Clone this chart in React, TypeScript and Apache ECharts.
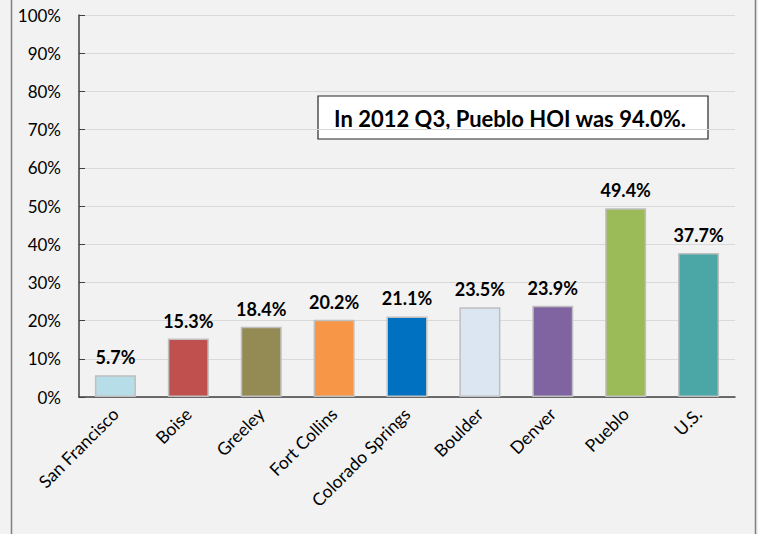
import React, { useEffect, useRef } from "react";
import * as echarts from "echarts";

const categories = ["San Francisco", "Boise", "Greeley", "Fort Collins", "Colorado Springs", "Boulder", "Denver", "Pueblo", "U.S."];
const values = [5.7, 15.3, 18.4, 20.2, 21.1, 23.5, 23.9, 49.4, 37.7];
const colors = ["#b7dee8", "#c0504d", "#948a54", "#f79646", "#0070c0", "#dce6f2", "#8064a2", "#9bbb59", "#4ba6a6"];
const annotation = "In 2012 Q3, Pueblo HOI was 94.0%.";

const FONT = "Lato, 'Open Sans', sans-serif";

export default function App() {
  const ref = useRef<HTMLDivElement>(null);
  useEffect(() => {
    const chart = echarts.init(ref.current!, null, { renderer: "svg" });
    chart.setOption({
      animation: false,
      backgroundColor: "#f2f2f2",
      grid: { left: 79, right: 23, top: 15, bottom: 137 },
      xAxis: {
        type: "category",
        data: categories,
        axisLine: { lineStyle: { color: "#404040", width: 1.5 } },
        axisTick: { inside: true, length: 6, lineStyle: { color: "#404040" } },
        axisLabel: { rotate: 45, color: "#000", fontSize: 17.5, fontFamily: FONT, margin: 14, interval: 0 },
      },
      yAxis: {
        type: "value",
        min: 0,
        max: 100,
        interval: 10,
        axisLine: { show: true, lineStyle: { color: "#404040", width: 1.5 } },
        axisTick: { show: true, inside: true, length: 6, lineStyle: { color: "#404040" } },
        axisLabel: { formatter: "{value}%", color: "#000", fontSize: 17, fontFamily: FONT, margin: 18 },
        splitLine: { lineStyle: { color: "#d9d9d9", width: 1 } },
      },
      series: [
        {
          type: "bar",
          data: values.map((v, i) => ({ value: v, itemStyle: { color: colors[i] } })),
          barWidth: 41,
          itemStyle: { borderColor: "#bfbfbf", borderWidth: 1.5 },
          label: {
            show: true,
            position: "top",
            distance: 9,
            formatter: (p: any) => p.value.toFixed(1) + "%",
            color: "#000",
            fontWeight: "bold",
            fontSize: 18,
            fontFamily: FONT,
          },
        },
      ],
      graphic: [
        { type: "line", shape: { x1: 11.5, y1: 0, x2: 11.5, y2: 534 }, style: { stroke: "#7f7f7f", lineWidth: 1.5 } },
        { type: "line", shape: { x1: 755.5, y1: 0, x2: 755.5, y2: 534 }, style: { stroke: "#7f7f7f", lineWidth: 1.5 } },
        {
          type: "rect",
          shape: { x: 318, y: 96, width: 390, height: 43 },
          style: { fill: "#ffffff", stroke: "#262626", lineWidth: 1.2 },
        },
        {
          type: "text",
          x: 510,
          y: 118,
          style: {
            text: annotation,
            fill: "#000",
            font: "bold 22px " + FONT,
            align: "center",
            verticalAlign: "middle",
          },
        },
      ],
    });
    return () => chart.dispose();
  }, []);
  return <div ref={ref} style={{ width: 758, height: 534, position: "absolute", left: 0, top: 0 }} />;
}
